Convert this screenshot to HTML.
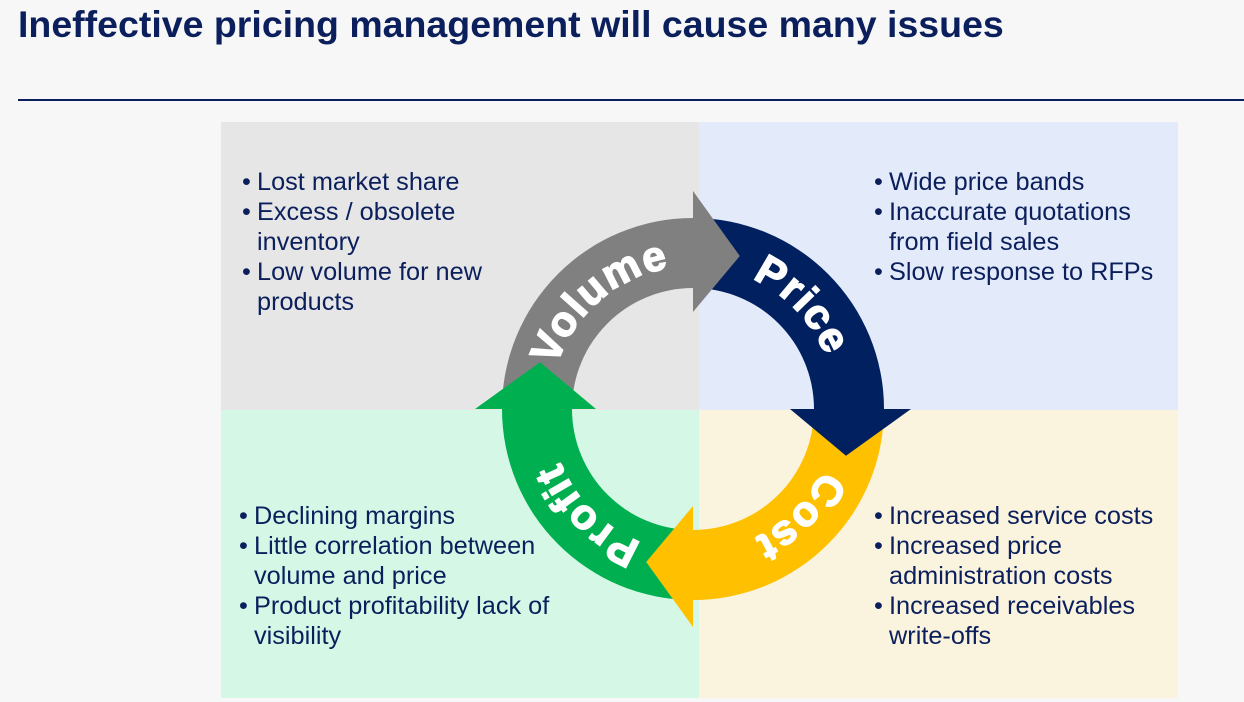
<!DOCTYPE html>
<html><head><meta charset="utf-8"><style>
body{margin:0;width:1244px;height:702px;background:#f7f7f7;font-family:"Liberation Sans",Arial,sans-serif;position:relative;overflow:hidden}
.t{position:absolute;left:18px;top:3px;font-size:37.5px;font-weight:bold;color:#0a1f5c;white-space:nowrap}
.ln{position:absolute;left:18px;top:99px;width:1226px;height:2px;background:#0a1f5c}
.q{position:absolute}
ul{position:absolute;margin:0;padding:0;list-style:none;font-size:25.3px;line-height:30px;color:#0a1f5c;white-space:nowrap}
li{position:relative;padding-left:15px}
li:before{content:"•";position:absolute;left:0}
</style></head><body>
<div class="t">Ineffective pricing management will cause many issues</div>
<div class="ln"></div>
<div class="q" style="left:221px;top:122px;width:478px;height:288px;background:#e6e6e6"></div>
<div class="q" style="left:699px;top:122px;width:479px;height:288px;background:#e3eaf9"></div>
<div class="q" style="left:221px;top:410px;width:478px;height:288px;background:#d5f8e6"></div>
<div class="q" style="left:699px;top:410px;width:479px;height:288px;background:#faf3de"></div>
<ul style="left:242px;top:167px;width:300px"><li>Lost market share</li><li>Excess / obsolete<br>inventory</li><li>Low volume for new<br>products</li></ul>
<ul style="left:874px;top:167px;width:300px"><li>Wide price bands</li><li>Inaccurate quotations<br>from field sales</li><li>Slow response to RFPs</li></ul>
<ul style="left:239px;top:501px;width:340px"><li>Declining margins</li><li>Little correlation between<br>volume and price</li><li>Product profitability lack of<br>visibility</li></ul>
<ul style="left:874px;top:501px;width:300px"><li>Increased service costs</li><li>Increased price<br>administration costs</li><li>Increased receivables<br>write-offs</li></ul>
<svg width="1244" height="702" style="position:absolute;left:0;top:0">
<defs>
<path id="a" d="M502,409 A191,191 0 0 1 693,218 L693,288 A121,121 0 0 0 572,409 Z"/>
<path id="h" d="M693,218 L693,191 L739.8,256 L693,312 L693,288 Z"/>
<path id="c" d="M693,266 A143,143 0 1 1 693,552 A143,143 0 1 1 693,266"/>
</defs>
<use href="#a" fill="#808080"/>
<use href="#a" fill="#002060" transform="rotate(90 693 409)"/>
<use href="#a" fill="#ffc000" transform="rotate(180 693 409)"/>
<use href="#a" fill="#00b050" transform="rotate(270 693 409)"/>
<use href="#h" fill="#808080"/>
<use href="#h" fill="#002060" transform="rotate(90 693 409)"/>
<use href="#h" fill="#ffc000" transform="rotate(180 693 409)"/>
<use href="#h" fill="#00b050" transform="rotate(270 693 409)"/>
<g font-family="Liberation Sans,Arial,sans-serif" font-weight="bold" font-size="42" fill="#fff" stroke="#fff" stroke-width="1.5" letter-spacing="1.5" text-anchor="middle">
<text><textPath href="#c" startOffset="796">Volume</textPath></text>
<text><textPath href="#c" startOffset="116">Price</textPath></text>
<text><textPath href="#c" startOffset="337">Cost</textPath></text>
<text><textPath href="#c" startOffset="561">Profit</textPath></text>
</g>
</svg>
</body></html>
